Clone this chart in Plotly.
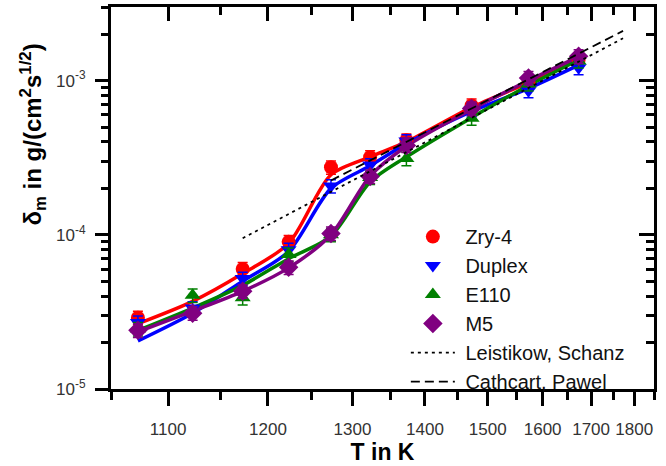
import numpy as np
import plotly.graph_objects as go

# Oxidation temperatures (K)
T_meas = [1073, 1123, 1173, 1223, 1273, 1323, 1373, 1473, 1573, 1673]

# Measured parabolic rate constants delta_m in g/(cm^2 s^1/2)
zry4 = [2.9e-5, None, 6.0e-5, 9.0e-5, 2.74e-4, 3.19e-4, 4.1e-4, 6.9e-4, 9.6e-4, 1.36e-3]
duplex = [2.7e-5, 3.35e-5, 5.2e-5, 8.0e-5, 2.07e-4, 2.83e-4, 4.05e-4, 6.45e-4, 8.6e-4, 1.21e-3]
e110 = [2.45e-5, 4.05e-5, 3.9e-5, 7.45e-5, 1.0e-4, 2.35e-4, 3.12e-4, 5.7e-4, 9.5e-4, 1.34e-3]
m5 = [2.4e-5, 3.1e-5, 4.3e-5, 6.15e-5, 1.02e-4, 2.39e-4, 3.8e-4, 6.6e-4, 1.04e-3, 1.44e-3]
err_pct = 10  # relative scatter of the measurements (%)

# Smoothed trend curves through the measurements
zry4_fit = [2.65e-5, 3.7e-5, 5.6e-5, 8.8e-5, 2.45e-4, 3.2e-4, 4.0e-4, 6.7e-4, 9.7e-4, 1.38e-3]
duplex_fit = [2.05e-5, 3.1e-5, 5.0e-5, 7.8e-5, 2.0e-4, 2.8e-4, 3.9e-4, 6.3e-4, 8.9e-4, 1.26e-3]
e110_fit = [2.4e-5, 3.35e-5, 4.7e-5, 7.0e-5, 9.8e-5, 2.2e-4, 3.2e-4, 5.75e-4, 9.3e-4, 1.36e-3]
m5_fit = [2.35e-5, 3.2e-5, 4.3e-5, 6.1e-5, 1.0e-4, 2.4e-4, 3.75e-4, 6.5e-4, 1.0e-3, 1.43e-3]

# Literature correlations (Arrhenius lines)
T_leistikow = [1173, 1773]
leistikow = [9.5e-5, 1.88e-3]
T_cathcart = [1273, 1773]
cathcart = [2.25e-4, 2.1e-3]

# Axis ticks
x_major = [1100, 1200, 1300, 1400, 1500, 1600, 1700, 1800]
x_minor = [1050, 1150, 1250, 1350, 1450, 1550, 1650, 1750, 1850]
T_range = [1050, 1850]
y_major = [1e-5, 1e-4, 1e-3]
y_major_text = ["10<sup>-5</sup>", "10<sup>-4</sup>", "10<sup>-3</sup>"]
y_range = [1e-5, 3e-3]


def inv(temps):
    """Reciprocal temperature axis coordinate, 10^4/T."""
    return [None if t is None else 1e4 / t for t in temps]


y_minor = [m * d for d in (1e-5, 1e-4, 1e-3) for m in range(2, 10) if m * d <= y_range[1]]

FONT = "Liberation Sans, Arial, sans-serif"
PAD = "\u00a0"  # small gap between legend symbol and label
series = [
    ("Zry-4", zry4, zry4_fit, "#FF0000", "circle", 14),
    ("Duplex", duplex, duplex_fit, "#0000FF", "triangle-down", 14),
    ("E110", e110, e110_fit, "#008000", "triangle-up", 14),
    ("M5", m5, m5_fit, "#800080", "diamond", 15),
]

fig = go.Figure()

# trend curves first so the markers sit on top
for name, vals, fit, col, sym, sz in series:
    fig.add_trace(go.Scatter(
        x=inv(T_meas), y=fit, mode="lines", showlegend=False,
        line=dict(color=col, width=3.5, shape="spline", smoothing=0.8),
        hoverinfo="skip"))

for name, vals, fit, col, sym, sz in series:
    xs = [u for u, v in zip(inv(T_meas), vals) if v is not None]
    ys = [v for v in vals if v is not None]
    fig.add_trace(go.Scatter(
        x=xs, y=ys, mode="markers", name=PAD + name,
        marker=dict(color=col, symbol=sym, size=sz, line=dict(width=0)),
        error_y=dict(type="percent", value=err_pct, color=col, thickness=1.5, width=5)))

fig.add_trace(go.Scatter(
    x=inv(T_leistikow), y=leistikow, mode="lines", name=PAD + "Leistikow, Schanz",
    line=dict(color="black", width=1.8, dash="3px,4px")))
fig.add_trace(go.Scatter(
    x=inv(T_cathcart), y=cathcart, mode="lines", name=PAD + "Cathcart, Pawel",
    line=dict(color="black", width=1.8, dash="9px,5px")))

x_rng = [1e4 / T_range[0], 1e4 / T_range[1]]
y_rng = [np.log10(y_range[0]), np.log10(y_range[1])]

axis_common = dict(showgrid=False, zeroline=False, showline=True,
                   linecolor="black", linewidth=3, tickcolor="black",
                   tickwidth=3)

fig.update_layout(
    width=666, height=466,
    margin=dict(l=111, r=12, t=7, b=68),
    paper_bgcolor="white", plot_bgcolor="white",
    font=dict(family=FONT, color="#222"),
    xaxis=dict(
        **axis_common, range=x_rng, ticks="outside", ticklen=14,
        tickvals=inv(x_major), ticktext=[str(t) for t in x_major],
        tickfont=dict(size=17, color="#333"), ticklabelstandoff=9,
        minor=dict(tickvals=inv(x_minor), ticks="outside", ticklen=8,
                   tickwidth=3, tickcolor="black"),
        title=dict(text="<b>T in K</b>", font=dict(size=23, color="black"),
                   standoff=3),
    ),
    xaxis2=dict(
        **axis_common, range=x_rng, overlaying="x", side="top",
        ticks="inside", ticklen=14, tickvals=inv(x_major),
        showticklabels=False,
        minor=dict(tickvals=inv(x_minor), ticks="inside", ticklen=8,
                   tickwidth=3, tickcolor="black"),
    ),
    yaxis=dict(
        **axis_common, type="log", range=y_rng, ticks="outside", ticklen=13,
        tickvals=y_major, ticktext=y_major_text,
        tickfont=dict(size=17, color="#333"), ticklabelstandoff=6,
        minor=dict(tickvals=y_minor, ticks="outside", ticklen=7,
                   tickwidth=3, tickcolor="black"),
    ),
    yaxis2=dict(
        **axis_common, type="log", range=y_rng, overlaying="y", side="right",
        ticks="inside", ticklen=15, tickvals=y_major, showticklabels=False,
        minor=dict(tickvals=y_minor, ticks="inside", ticklen=8,
                   tickwidth=3, tickcolor="black"),
    ),
    legend=dict(x=0.543, y=0.45, xanchor="left", yanchor="top",
                bgcolor="rgba(0,0,0,0)", font=dict(size=20, color="#111"),
                itemwidth=44, tracegroupgap=0),
    showlegend=True,
)

# invisible carriers so the mirrored frame axes are drawn
fig.add_trace(go.Scatter(x=[None], y=[None], xaxis="x2", yaxis="y2",
                         showlegend=False, hoverinfo="skip"))

fig.add_annotation(
    text="<b>δ<sub>m</sub> in g/(cm<sup>2</sup>s<sup>1/2</sup>)</b>",
    xref="paper", yref="paper", x=-0.143, y=0.667,
    xanchor="center", yanchor="middle", textangle=-90, showarrow=False,
    font=dict(size=24, color="black", family=FONT))

fig.write_html("out.html")
